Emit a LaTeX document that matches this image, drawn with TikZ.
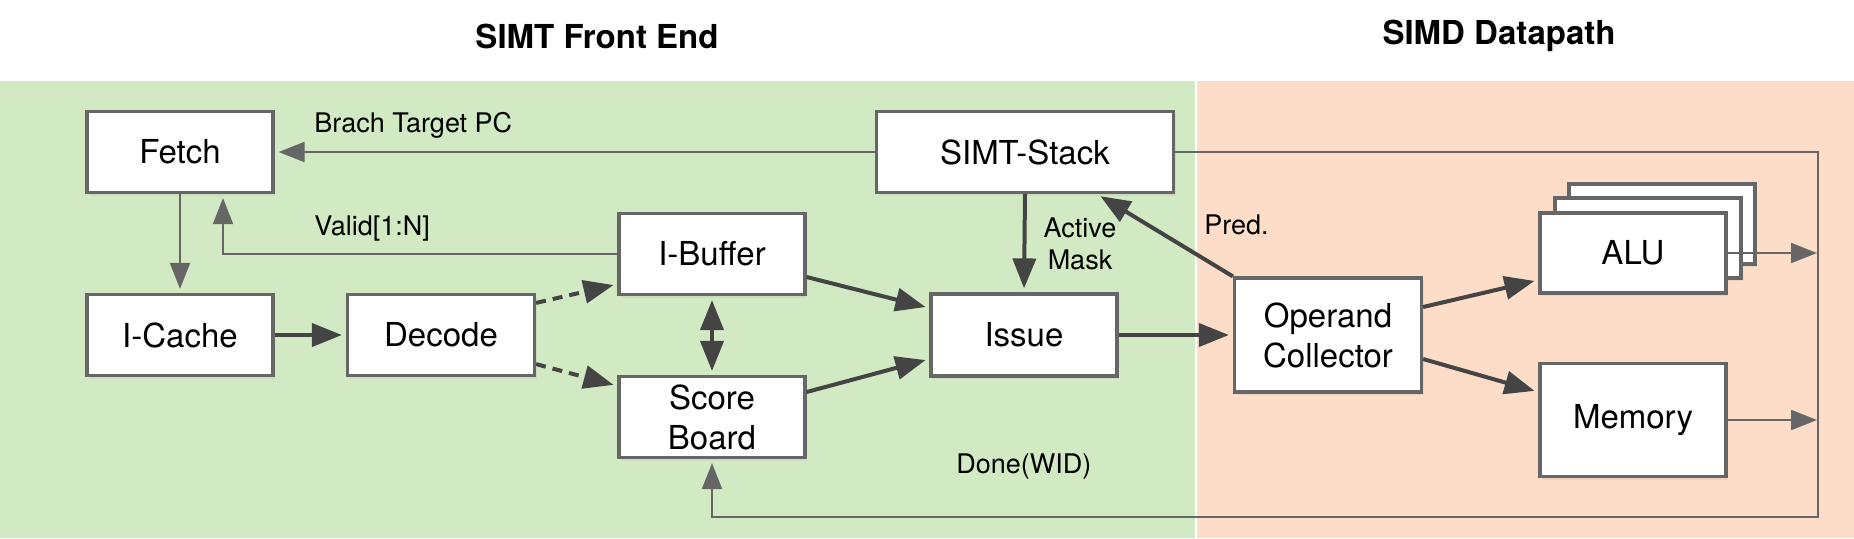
\documentclass[tikz,border=0pt]{standalone}
\usepackage{fontspec}
\setmainfont{TeX Gyre Heros}
\usetikzlibrary{arrows.meta,shadows,calc}
\definecolor{gbg}{HTML}{D2EAC4}
\definecolor{pbg}{HTML}{FDDDC8}
\definecolor{bord}{HTML}{666666}
\definecolor{thinc}{HTML}{666666}
\definecolor{thickc}{HTML}{444444}
\begin{document}
\begin{tikzpicture}[x=0.5pt,y=-0.5pt,
  blk/.style={draw=bord, line width=1.6pt, fill=white, inner sep=0pt, align=center,
    font=\fontsize{16.5}{20}\selectfont,
    drop shadow={opacity=0.12, shadow xshift=1pt, shadow yshift=-1.5pt}},
  thinarr/.style={draw=thinc, line width=1pt, shorten >=2pt, -{Triangle[length=13pt,width=10pt]}},
  thickarr/.style={draw=thickc, line width=2pt, shorten >=2pt, -{Triangle[length=15pt,width=11.5pt]}},
  dasharr/.style={thickarr, dash pattern=on 5pt off 3.5pt},
  lbl/.style={font=\fontsize{13.5}{16.2}\selectfont, inner sep=0pt},
  ttl/.style={font=\bfseries\fontsize{16.5}{20}\selectfont, inner sep=0pt}]
\useasboundingbox (0,0) rectangle (1854,538);
\fill[white] (0,0) rectangle (1854,538);
\fill[gbg] (0,81) rectangle (1195,538);
\fill[pbg] (1197,81) rectangle (1854,538);

\node[ttl] (t1) at (597,36) {SIMT Front End};
\node[ttl] (t2) at (1499,36) {SIMD Datapath};

\node[blk, minimum width=93pt, minimum height=40.5pt] (fetch) at (180,152) {Fetch};
\node[blk, minimum width=93pt, minimum height=40.5pt] (icache) at (180,335) {I-Cache};
\node[blk, minimum width=93.5pt, minimum height=40.5pt] (decode) at (441,335) {Decode};
\node[blk, minimum width=93pt, minimum height=40.5pt] (ibuf) at (712,254) {I-Buffer};
\node[blk, minimum width=93pt, minimum height=40.5pt] (score) at (712,417) {Score\\Board};
\node[blk, minimum width=148.5pt, minimum height=40.5pt] (simt) at (1025,152) {SIMT-Stack};
\node[blk, minimum width=93pt, minimum height=41pt] (issue) at (1024,335) {Issue};
\node[blk, minimum width=93.5pt, minimum height=57pt] (oc) at (1328,335) {Operand\\Collector};
\node[blk, minimum width=93pt, minimum height=40pt] (alu3) at (1662,224) {};
\node[blk, minimum width=93pt, minimum height=40pt] (alu2) at (1648,238) {};
\node[blk, minimum width=93pt, minimum height=40pt] (alu) at (1633,253) {ALU};
\node[blk, minimum width=93pt, minimum height=56.5pt] (mem) at (1633,420) {Memory};

\coordinate (tr) at (1818,152);
\coordinate (br) at (1818,517);

% thin connectors
\draw[thinarr] (simt.west) -- (fetch.east);
\node[lbl, anchor=base west] (lbpc) at (314,132) {Brach Target PC};
\draw[thinarr] (fetch.south) -- (icache.north);
\draw[thinarr] (ibuf.west) -| ($(fetch.south)+(43,0)$);
\node[lbl, anchor=base west] (lvalid) at (314,235) {Valid[1:N]};
\draw[thinarr] (simt.east) -- (tr) -- (br) -| (score.south);
\node[lbl, anchor=base west] (ldone) at (956,473) {Done(WID)};
\draw[thinarr, shorten >=0.5pt] (alu.east) -- (alu.east -| tr);
\draw[thinarr, shorten >=0.5pt] (mem.east) -- (mem.east -| tr);

% thick connectors
\draw[thickarr] (icache.east) -- (decode.west);
\draw[dasharr] ($(decode.north east)+(0,10)$) -- ($(ibuf.south west)+(0,-12)$);
\draw[dasharr] ($(decode.south east)+(0,-13)$) -- ($(score.north west)+(0,11)$);
\draw[thickarr, shorten <=2pt, {Triangle[length=15pt,width=11.5pt]}-{Triangle[length=15pt,width=11.5pt]}] (ibuf.south) -- (score.north);
\draw[thickarr] ($(ibuf.east)+(0,23)$) -- ($(issue.west)+(0,-27)$);
\draw[thickarr] ($(score.east)+(0,-25)$) -- ($(issue.west)+(0,24)$);
\draw[thickarr] (simt.south) -- (issue.north);
\node[lbl, align=center] (lam) at (1080,244) {Active\\Mask};
\draw[thickarr] (issue.east) -- (oc.west);
\draw[thickarr] (oc.north west) -- ($(simt.south)+(72,0)$);
\node[lbl, anchor=base west] (lpred) at (1204,234) {Pred.};
\draw[thickarr] ($(oc.east)+(0,-28)$) -- ($(alu.west)+(0,27)$);
\draw[thickarr] ($(oc.east)+(0,24)$) -- ($(mem.west)+(0,-28)$);
\end{tikzpicture}
\end{document}
